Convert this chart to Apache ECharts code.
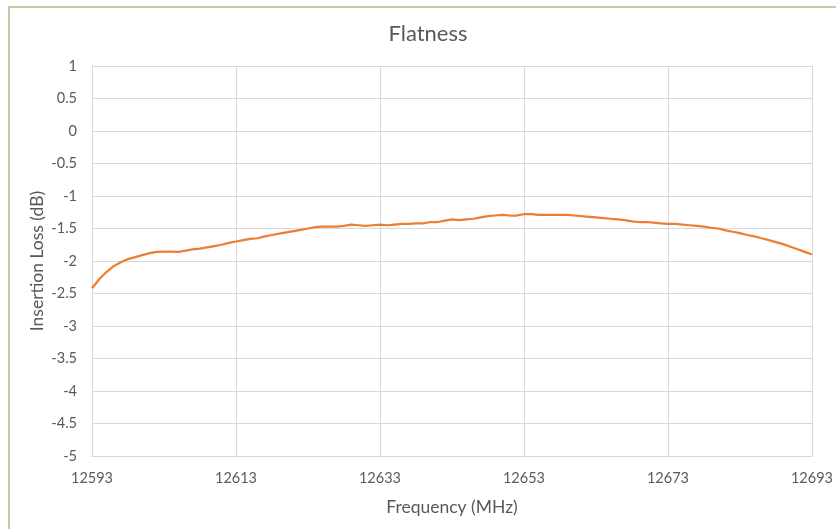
<!DOCTYPE html>
<html>
<head>
<meta charset="utf-8">
<script src="https://cdn.jsdelivr.net/npm/echarts@6/dist/echarts.min.js"></script>
<style>
html,body{margin:0;padding:0;background:#fff;}
#chart{width:836px;height:529px;}
</style>
</head>
<body>
<div id="chart"></div>
<script>
const freqs = [];
for (let f = 12593; f <= 12693; f++) freqs.push(String(f));

const loss = [
  -2.42,-2.28,-2.17,-2.08,-2.02,-1.97,-1.94,-1.91,-1.88,-1.86,
  -1.855,-1.855,-1.86,-1.84,-1.82,-1.81,-1.79,-1.77,-1.75,-1.72,
  -1.70,-1.68,-1.66,-1.65,-1.62,-1.60,-1.58,-1.56,-1.54,-1.52,
  -1.50,-1.48,-1.47,-1.47,-1.47,-1.46,-1.44,-1.45,-1.46,-1.45,
  -1.44,-1.45,-1.44,-1.43,-1.43,-1.42,-1.42,-1.40,-1.40,-1.38,
  -1.36,-1.37,-1.36,-1.35,-1.33,-1.31,-1.30,-1.29,-1.30,-1.30,
  -1.28,-1.28,-1.29,-1.29,-1.29,-1.29,-1.29,-1.30,-1.31,-1.32,
  -1.33,-1.34,-1.35,-1.36,-1.37,-1.39,-1.40,-1.40,-1.41,-1.42,
  -1.43,-1.43,-1.44,-1.45,-1.46,-1.47,-1.49,-1.50,-1.53,-1.55,
  -1.57,-1.60,-1.62,-1.65,-1.68,-1.71,-1.74,-1.78,-1.82,-1.86,
  -1.90
];

const titleText = 'Flatness';
const xName = 'Frequency (MHz)';
const yName = 'Insertion Loss (dB)';

const chart = echarts.init(document.getElementById('chart'), null, {renderer: 'canvas'});
const textColor = '#595959';
const gridColor = '#d9d9d9';
const font = 'Lato, "Open Sans", sans-serif';

chart.setOption({
  backgroundColor: '#ffffff',
  animation: false,
  graphic: [{
    type: 'rect',
    z: -10,
    shape: {x: 9, y: 7, width: 1000, height: 800},
    style: {fill: 'none', stroke: '#cbc7a5', lineWidth: 2}
  }],
  title: {
    text: titleText,
    left: 423,
    textAlign: 'center',
    top: 18,
    textStyle: {fontFamily: font, fontSize: 22, fontWeight: 'normal', color: textColor}
  },
  grid: {left: 92, right: 23, top: 66, bottom: 73, containLabel: false},
  xAxis: {
    type: 'category',
    data: freqs,
    boundaryGap: false,
    name: xName,
    nameLocation: 'middle',
    nameGap: 42,
    nameTextStyle: {fontFamily: font, fontSize: 17.5, color: textColor},
    axisLine: {onZero: false, lineStyle: {color: gridColor, width: 1}},
    axisTick: {show: false},
    axisLabel: {interval: 19, margin: 15, fontFamily: font, fontSize: 14.5, color: textColor},
    splitLine: {show: true, interval: 19, lineStyle: {color: gridColor, width: 1}}
  },
  yAxis: {
    type: 'value',
    min: -5,
    max: 1,
    interval: 0.5,
    name: yName,
    nameLocation: 'middle',
    nameGap: 46,
    nameMoveOverlap: false,
    nameTextStyle: {fontFamily: font, fontSize: 17.5, color: textColor},
    axisLine: {show: true, lineStyle: {color: gridColor, width: 1}},
    axisTick: {show: false},
    axisLabel: {margin: 15, fontFamily: font, fontSize: 14.5, color: textColor},
    splitLine: {show: true, lineStyle: {color: gridColor, width: 1}}
  },
  series: [{
    type: 'line',
    data: loss,
    showSymbol: false,
    smooth: false,
    lineStyle: {color: '#ed7d31', width: 2.25},
    itemStyle: {color: '#ed7d31'}
  }]
});
</script>
</body>
</html>
